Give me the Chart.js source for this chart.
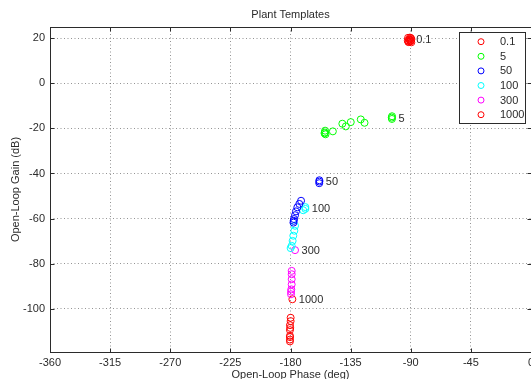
<!DOCTYPE html>
<html>
<head>
<meta charset="utf-8">
<script src="https://cdn.jsdelivr.net/npm/chart.js@4.4.0/dist/chart.umd.min.js"></script>
<style>
  html, body { margin: 0; padding: 0; background: #fff; overflow: hidden; }
  #wrap { position: relative; width: 531px; height: 379px; overflow: hidden; }
  #wrap canvas { position: absolute; left: 0; top: 0; }
</style>
</head>
<body>
<div id="wrap"><canvas id="c" width="560" height="379" style="width:560px;height:379px"></canvas></div>
<script>
// ------------------------------------------------------------
// Plant Templates -- open-loop phase (deg) vs gain (dB)
// ------------------------------------------------------------
const xTicks = [-360, -315, -270, -225, -180, -135, -90, -45, 0];
const yTicks = [-100, -80, -60, -40, -20, 0, 20];
const xRange = [-360, 0];
const yRange = [-119.2, 25];

const templateNames = ['0.1', '5', '50', '100', '300', '1000'];
const templateColors = ['#ff0000', '#00ff00', '#0000ff', '#00ffff', '#ff00ff', '#ff0000'];

// first point of each template is the one that carries the text label
const phase01 = [-90.8, -92.0, -91.2, -90.3, -89.6, -92.2, -90.6, -89.5, -91.6, -90.0, -91.9, -89.8];
const gain01  = [ 19.5,  20.2,  19.4,  18.6,  18.2,  19.0,  20.3,  19.6,  18.3,  20.1,  18.5,  19.0];

const phase5 = [-104.1, -104.0, -104.2, -154.1, -154.3, -153.8, -154.5, -148.3, -141.2, -138.6, -134.9, -127.4, -124.6];
const gain5  = [ -15.8,  -14.6,  -15.2,  -21.0,  -21.8,  -22.6,  -22.2,  -21.3,  -17.9,  -19.1,  -17.2,  -16.0,  -17.5];

const phase50 = [-158.4, -158.4, -158.5, -172.1, -173.4, -174.9, -175.9, -176.6, -177.4, -177.6, -177.8];
const gain50  = [ -43.6,  -43.0,  -44.3,  -52.1,  -53.5,  -55.0,  -56.8,  -58.5,  -60.2,  -61.0,  -61.8];

const phase100 = [-168.9, -168.9, -170.5, -176.6, -177.1, -177.9, -178.4, -179.1, -179.9];
const gain100  = [ -55.7,  -54.9,  -56.3,  -63.2,  -65.4,  -67.6,  -69.9,  -72.1,  -73.1];

const phase300 = [-176.6, -179.1, -179.1, -179.1, -179.1, -179.4, -179.6, -179.6];
const gain300  = [ -74.0,  -83.2,  -84.7,  -86.9,  -89.2,  -91.4,  -92.4,  -93.6];

const phase1000 = [-178.6, -179.9, -179.9, -180.4, -180.2, -180.4, -180.4, -180.4, -180.4, -180.4];
const gain1000  = [ -95.8, -104.0, -105.5, -107.3, -108.5, -109.5, -112.0, -112.6, -113.7, -114.5];

const templatePhases = [phase01, phase5, phase50, phase100, phase300, phase1000];
const templateGains  = [gain01, gain5, gain50, gain100, gain300, gain1000];

const FONT = '"Liberation Sans", Arial, Helvetica, sans-serif';
const INK = '#2b2b2b';

function _points(xs, ys) {
  return xs.map(function(x, i) { return { x: x, y: ys[i] }; });
}

const datasets = templateNames.map(function(name, i) {
  return {
    label: name,
    data: _points(templatePhases[i], templateGains[i]),
    borderColor: templateColors[i],
    backgroundColor: 'rgba(0,0,0,0)',
    pointStyle: 'circle',
    pointRadius: 3.5,
    pointBorderWidth: 1,
    showLine: false
  };
});

// MATLAB-ish box, inward ticks, template labels, legend and title
const matlabDecor = {
  id: 'matlabDecor',
  afterDatasetsDraw(chart) {
    const ctx = chart.ctx;
    ctx.save();
    ctx.font = '11px ' + FONT;
    ctx.fillStyle = INK;
    ctx.textAlign = 'left';
    ctx.textBaseline = 'middle';
    chart.data.datasets.forEach(function(ds, i) {
      const el = chart.getDatasetMeta(i).data[0];
      ctx.fillText(ds.label, el.x + 6.5, el.y + 0.5);
    });
    ctx.restore();
  },
  afterDraw(chart) {
    const ctx = chart.ctx;
    const a = chart.chartArea;
    const xs = chart.scales.x, ys = chart.scales.y;
    ctx.save();
    ctx.strokeStyle = INK;
    ctx.lineWidth = 1;
    const L = Math.round(a.left) + 0.5, R = Math.round(a.right) + 0.5;
    const T = Math.round(a.top) + 0.5, B = Math.round(a.bottom) + 0.5;
    ctx.strokeRect(L, T, R - L, B - T);

    ctx.beginPath();
    xTicks.forEach(function(v) {
      const p = Math.round(xs.getPixelForValue(v)) + 0.5;
      ctx.moveTo(p, B); ctx.lineTo(p, B - 4);
      ctx.moveTo(p, T); ctx.lineTo(p, T + 4);
    });
    yTicks.forEach(function(v) {
      const p = Math.round(ys.getPixelForValue(v)) + 0.5;
      ctx.moveTo(L, p); ctx.lineTo(L + 4, p);
      ctx.moveTo(R, p); ctx.lineTo(R - 4, p);
    });
    ctx.stroke();

    // title
    ctx.font = '11px ' + FONT;
    ctx.fillStyle = INK;
    ctx.textAlign = 'center';
    ctx.textBaseline = 'middle';
    ctx.fillText('Plant Templates', (a.left + a.right) / 2, 15);

    // legend box
    const bx = 459.5, by = 32.5, bw = 66, bh = 91;
    ctx.fillStyle = '#fff';
    ctx.fillRect(bx, by, bw, bh);
    ctx.strokeStyle = INK;
    ctx.strokeRect(bx, by, bw, bh);
    ctx.textAlign = 'left';
    templateNames.forEach(function(name, i) {
      const ry = 41.7 + i * 14.6;
      ctx.beginPath();
      ctx.strokeStyle = templateColors[i];
      ctx.arc(481, ry, 3, 0, Math.PI * 2);
      ctx.stroke();
      ctx.fillStyle = INK;
      ctx.fillText(name, 500, ry + 0.5);
    });
    ctx.restore();
  }
};

new Chart(document.getElementById('c'), {
  type: 'scatter',
  data: { datasets: datasets },
  plugins: [matlabDecor],
  options: {
    responsive: false,
    animation: false,
    events: [],
    layout: { padding: { top: 27, right: 29, left: 0, bottom: 0 } },
    plugins: { legend: { display: false }, title: { display: false }, tooltip: { enabled: false } },
    scales: {
      x: {
        type: 'linear',
        min: xRange[0], max: xRange[1],
        afterBuildTicks: function(s) { s.ticks = xTicks.map(function(v) { return { value: v }; }); },
        afterFit: function(s) { s.height = 27; },
        grid: { color: 'rgba(0,0,0,0.42)', lineWidth: 1, drawTicks: false },
        border: { display: false, dash: [1, 2.5] },
        ticks: { color: INK, font: { family: FONT, size: 11 }, padding: 4, maxRotation: 0, autoSkip: false },
        title: { display: true, text: 'Open-Loop Phase (deg)', color: INK, font: { family: FONT, size: 11 }, padding: { top: 0, bottom: -3 } }
      },
      y: {
        type: 'linear',
        min: yRange[0], max: yRange[1],
        afterBuildTicks: function(s) { s.ticks = yTicks.map(function(v) { return { value: v }; }); },
        afterFit: function(s) { s.width = 50; },
        grid: { color: 'rgba(0,0,0,0.42)', lineWidth: 1, drawTicks: false },
        border: { display: false, dash: [1, 2.5] },
        ticks: { color: INK, font: { family: FONT, size: 11 }, padding: 5, autoSkip: false },
        title: { display: true, text: 'Open-Loop Gain (dB)', color: INK, font: { family: FONT, size: 11 }, padding: { top: 9, bottom: 0 } }
      }
    }
  }
});
</script>
</body>
</html>
